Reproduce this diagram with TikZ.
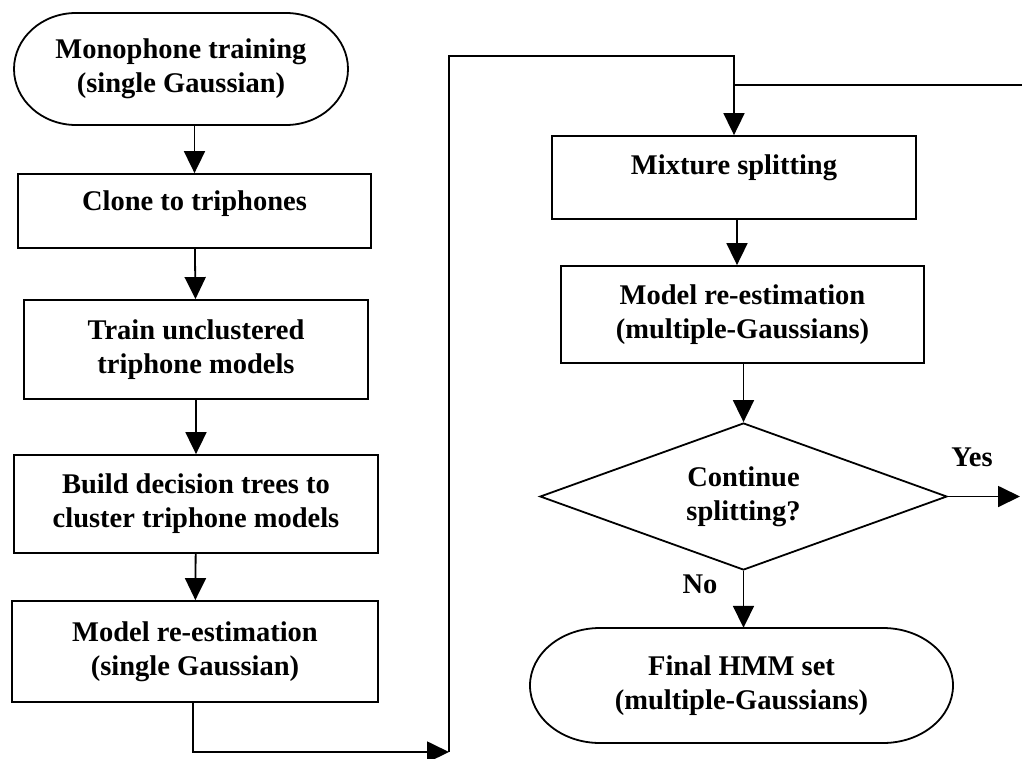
\documentclass[tikz,border=0pt]{standalone}
\usepackage{fontspec}
\setmainfont{Liberation Serif}
\usetikzlibrary{shapes.geometric,arrows.meta}
% outline of a start/end capsule around a node:
% #1 node, #2 half length of the flat sides, #3 x radius of the ends, #4 half height
\newcommand\capsuleoutline[4]{%
  \draw[line width=1.8pt] (#1.center) ++(-#2,-#4) -- ++(2*#2,0)
    arc[start angle=-90, end angle=90, x radius=#3, y radius=#4]
    -- ++(-2*#2,0)
    arc[start angle=90, end angle=270, x radius=#3, y radius=#4] -- cycle;}
\begin{document}
\begin{tikzpicture}[x=1pt,y=-1pt,
  txt/.style={font=\bfseries\fontsize{28.5}{34}\selectfont, align=center, inner sep=0pt},
  procbox/.style={txt, draw, line width=1.8pt, rectangle},
  termbox/.style={txt, rectangle},
  decbox/.style={txt, draw, line width=1.8pt, diamond, aspect=2.75},
  flow/.style={line width=1.8pt, -{Triangle[width=21pt,length=22pt]}},
  plain/.style={line width=1.8pt}]
\useasboundingbox (0,0) rectangle (1022,758);

% left column
\node[termbox, minimum width=334pt, minimum height=112pt] (mono) at (181,69)
  {Monophone training\\(single Gaussian)};
\capsuleoutline{mono}{105}{62}{56}
\node[procbox, minimum width=353pt, minimum height=74pt, text depth=20pt] (clone) at (194.5,211)
  {Clone to triphones};
\node[procbox, minimum width=344pt, minimum height=99pt] (train) at (196,349.5)
  {Train unclustered\\triphone models};
\node[procbox, minimum width=364pt, minimum height=98pt] (build) at (196,504)
  {Build decision trees to\\cluster triphone models};
\node[procbox, minimum width=366pt, minimum height=101pt] (reest1) at (195,651.5)
  {Model re-estimation\\(single Gaussian)};

% right column
\node[procbox, minimum width=364pt, minimum height=83pt, text depth=26pt] (mix) at (734,177.5)
  {Mixture splitting};
\node[procbox, minimum width=363pt, minimum height=97pt] (reest2) at (742.5,314.5)
  {Model re-estimation\\(multiple-Gaussians)};
\node[decbox, minimum width=407pt, minimum height=147pt] (cont) at (743.5,496.5)
  {Continue\\splitting?};
\node[termbox, minimum width=423pt, minimum height=115pt] (final) at (741.5,685.5)
  {Final HMM set\\(multiple-Gaussians)};
\capsuleoutline{final}{141.5}{70}{57.5}

\node[txt] (yes) at (972,457) {Yes};
\node[txt] (no) at (700,584) {No};

% connector end points
\coordinate (bl) at (193,752);
\coordinate (br) at (449,752);
\coordinate (tl) at (449,56);
\coordinate (tj) at (734,56);
\coordinate (rj) at (734,85);
\coordinate (re) at (1022,85);
\coordinate (ye) at (1020,496.5);

% left column flow
\draw[flow] (mono.south -| clone.north) -- (clone.north);
\draw[flow] (clone) -- (train);
\draw[flow] (train) -- (build);
\draw[flow] (build) -- (reest1);
\draw[flow] (reest1.south -| bl) -- (bl) -- (br);
\draw[plain] (br) -- (tl) -- (tj) -- (rj);
\draw[flow] (rj) -- (rj |- mix.north);
\draw[plain] (re) -- (rj);

% right column flow
\draw[flow] ([xshift=3pt]mix.south) -- ([xshift=3pt]mix.south |- reest2.north);
\draw[flow] (reest2.south -| cont.north) -- (cont.north);
\draw[flow] (cont.east) -- (ye);
\draw[flow] (cont.south) -- (cont.south |- final.north);
\end{tikzpicture}
\end{document}
